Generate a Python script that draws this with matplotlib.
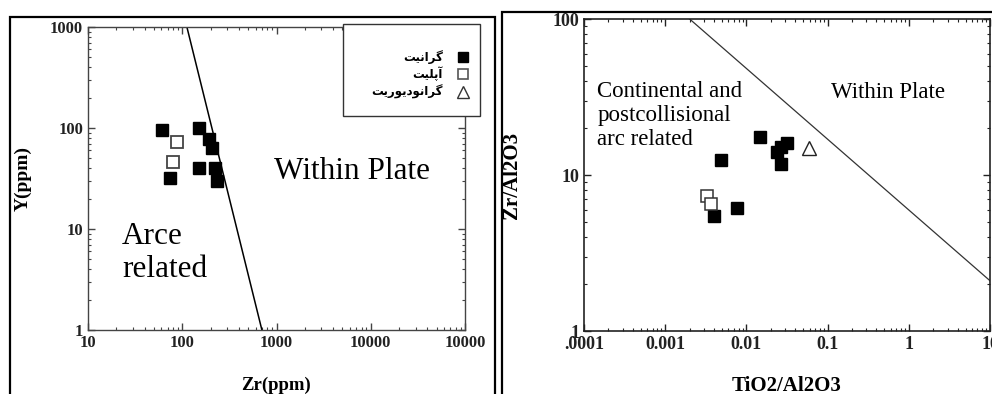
import numpy as np
import matplotlib
matplotlib.use("Agg")
from matplotlib import pyplot as plt
from matplotlib.patches import Rectangle
from matplotlib.lines import Line2D

# left panel: Zr vs Y
zr_granite = [61, 150, 192, 207, 151, 224, 74, 234]
y_granite = [95, 100, 78, 63, 40, 40, 32, 30]
zr_aplite = [88, 80]
y_aplite = [73, 46]
zr_line = [112, 700]
y_line = [1000, 1]

# right panel: TiO2/Al2O3 vs Zr/Al2O3
ti_granite = [0.0145, 0.0048, 0.024, 0.032, 0.027, 0.027, 0.0077, 0.0040]
zrai_granite = [17.6, 12.5, 14.1, 16.1, 15.2, 11.7, 6.1, 5.5]
ti_aplite = [0.00327, 0.00366]
zrai_aplite = [7.3, 6.5]
ti_grd = [0.059]
zrai_grd = [14.8]
ti_line = [0.002, 10]
zrai_line = [100, 2.1]

xt_left = [10, 100, 1000, 10000, 100000]
xl_left = ["10", "100", "1000", "10000", "10000"]
yt_left = [1, 10, 100, 1000]
yl_left = ["1", "10", "100", "1000"]
xt_right = [1e-4, 1e-3, 1e-2, 1e-1, 1, 10]
xl_right = [".0001", "0.001", "0.01", "0.1", "1", "10"]
yt_right = [1, 10, 100]
yl_right = ["1", "10", "100"]

# legend labels (Persian, written as presentation forms in visual order)
leg_labels = ["\uFE96\uFBFF\uFEE7\uFE8D\uFEAE\uFB94",
              "\uFE96\uFBFF\uFEE0\uFB58\uFE81",
              "\uFE96\uFBFE\uFEAD\uFEEE\uFBFE\uFEA9\uFEEE\uFEE7\uFE8D\uFEAE\uFB94"]

serif = "Liberation Serif"
fig = plt.figure(figsize=(9.92, 3.94), dpi=100)

def style(ax, xt, xl, yt, yl, col, lw, fs):
    ax.set_xscale("log")
    ax.set_yscale("log")
    ax.set_xticks(xt)
    ax.set_xticklabels(xl)
    ax.set_yticks(yt)
    ax.set_yticklabels(yl)
    ax.tick_params(which="both", direction="in", top=True, right=True, colors=col, labelcolor="#222222")
    ax.tick_params(which="major", length=5, width=1)
    ax.tick_params(which="minor", length=2.5, width=0.8)
    for s in ax.spines.values():
        s.set_color(col)
        s.set_linewidth(lw)
    for t in ax.get_xticklabels() + ax.get_yticklabels():
        t.set_fontfamily(serif)
        t.set_fontweight("bold")
        t.set_fontsize(fs)

ax1 = fig.add_axes([88/992, 1-330/394, 377/992, 303/394])
ax1.plot(zr_line, y_line, color="black", lw=1.1)
ax1.plot(zr_granite, y_granite, "s", color="black", ms=9)
ax1.plot(zr_aplite, y_aplite, "s", mfc="white", mec="#444444", mew=1.3, ms=8.5)
ax1.set_xlim(10, 1e5)
ax1.set_ylim(1, 1000)
style(ax1, xt_left, xl_left, yt_left, yl_left, "#444444", 1.0, 12)
ax1.text(6400, 37, "Within Plate", fontfamily=serif, fontsize=22.5, ha="center", va="center")
ax1.text(23, 11.8, "Arce\nrelated", fontfamily=serif, fontsize=22.5, ha="left", va="top", linespacing=1.2)
ax1.set_xlabel("Zr(ppm)", fontfamily=serif, fontweight="bold", fontsize=13.5)
ax1.set_ylabel("Y(ppm)", fontfamily=serif, fontweight="bold", fontsize=14)
ax1.xaxis.set_label_coords(0.5, -0.155)
ax1.yaxis.set_label_coords(-0.149, 0.5)

ax2 = fig.add_axes([584/992, 1-331/394, 406/992, 312/394])
ax2.plot(ti_line, zrai_line, color="#333333", lw=0.9)
ax2.plot(ti_granite, zrai_granite, "s", color="black", ms=9)
ax2.plot(ti_aplite, zrai_aplite, "s", mfc="white", mec="#333333", mew=1.1, ms=8.5)
ax2.plot(ti_grd, zrai_grd, "^", mfc="white", mec="#222222", mew=1.0, ms=10)
ax2.set_xlim(1e-4, 10)
ax2.set_ylim(1, 100)
style(ax2, xt_right, xl_right, yt_right, yl_right, "#222222", 1.2, 13)
ax2.text(0.000145, 24.0, "Continental and\npostcollisional\narc related", fontfamily=serif,
         fontsize=16.5, ha="left", va="center", linespacing=1.2)
ax2.text(0.109, 33.6, "Within Plate", fontfamily=serif, fontsize=16.5, ha="left", va="center")
ax2.set_xlabel("TiO2/Al2O3", fontfamily=serif, fontweight="bold", fontsize=15)
ax2.set_ylabel("Zr/Al2O3", fontfamily=serif, fontweight="bold", fontsize=15)
ax2.xaxis.set_label_coords(0.5, -0.143)
ax2.yaxis.set_label_coords(-0.153, 0.5)

# outer frames
fig.add_artist(Rectangle((10/992, -0.05), 485/992, 1.05 - 17/394, transform=fig.transFigure,
                         fill=False, ec="black", lw=1.6))
fig.add_artist(Rectangle((502/992, -0.05), 0.5, 1.05 - 12/394, transform=fig.transFigure,
                         fill=False, ec="black", lw=1.6))

# legend box
fig.add_artist(Rectangle((343/992, 1-116/394), 137/992, 92/394, transform=fig.transFigure,
                         fc="white", ec="#333333", lw=1.0, zorder=5))
leg_y = [57, 74, 92]
leg_m = [dict(marker="s", mfc="black", mec="black", ms=7.5),
         dict(marker="s", mfc="white", mec="#555555", ms=7.5, mew=1.2),
         dict(marker="^", mfc="white", mec="#333333", ms=8, mew=1.0)]
for lab, yy, mk in zip(leg_labels, leg_y, leg_m):
    fig.text(443/992, 1-yy/394, lab, family=["DejaVu Sans"], fontweight="bold", fontsize=8.5,
             ha="right", va="center", zorder=6)
    fig.add_artist(Line2D([463/992], [1-yy/394], transform=fig.transFigure, ls="none", zorder=6, **mk))

fig.savefig("out.png", dpi=100)
